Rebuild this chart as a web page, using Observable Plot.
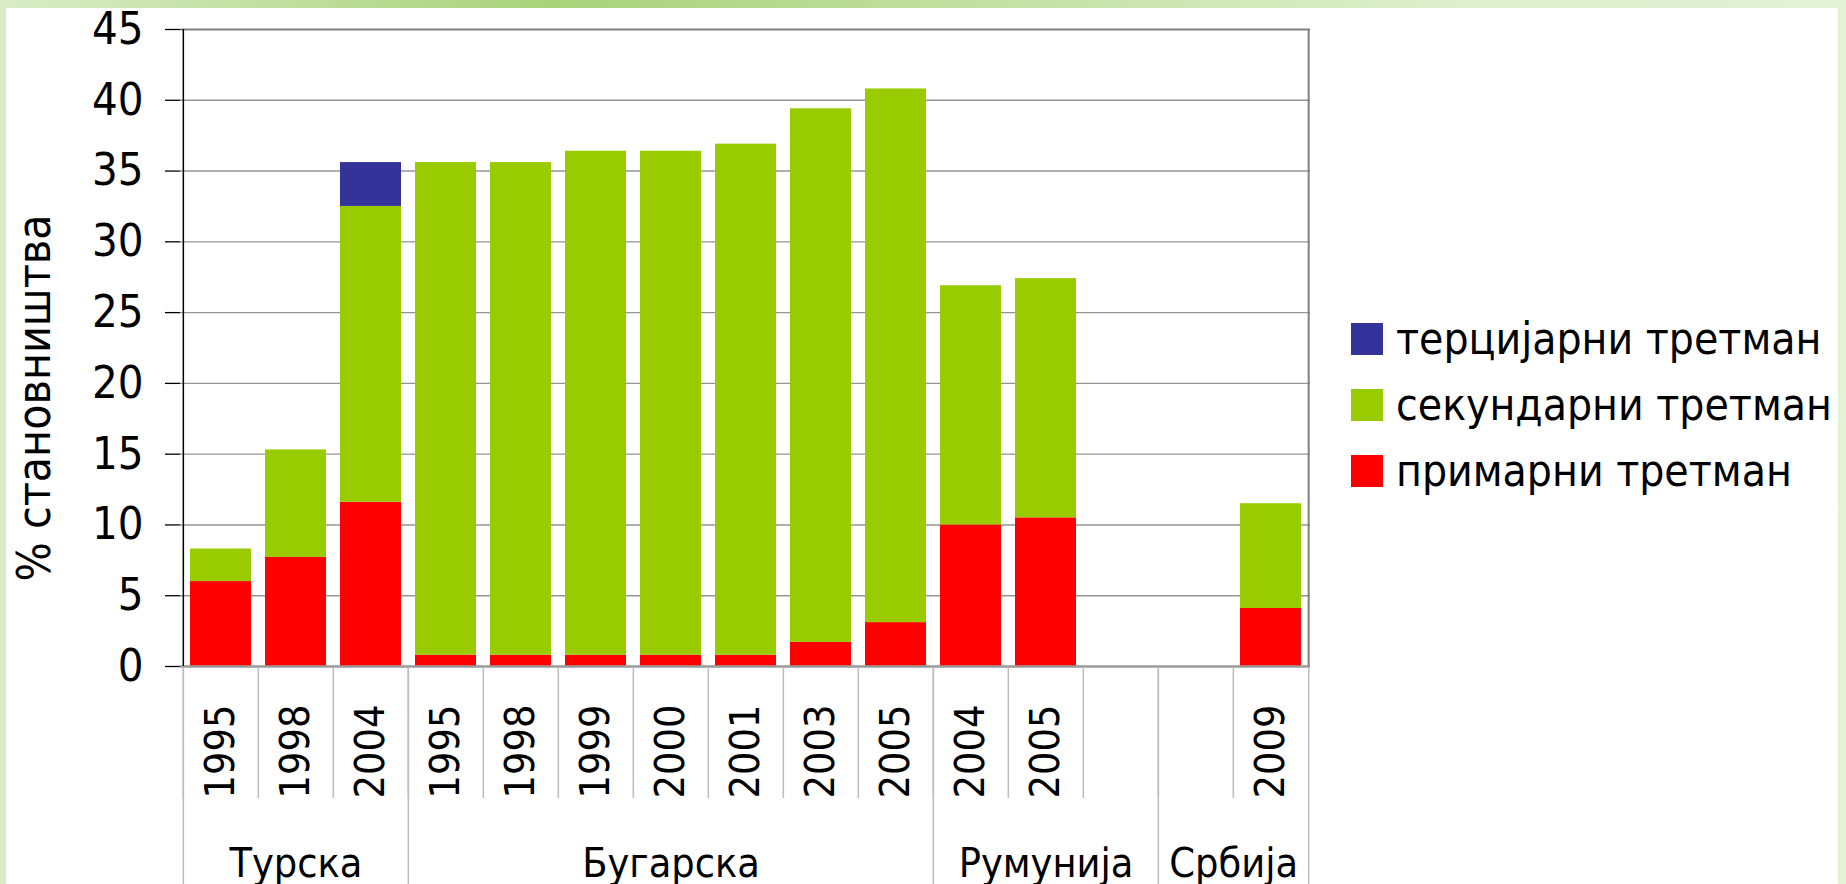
<!DOCTYPE html>
<html>
<head>
<meta charset="utf-8">
<script src="https://cdn.jsdelivr.net/npm/d3@7"></script>
<script src="https://cdn.jsdelivr.net/npm/@observablehq/plot@0.6"></script>
<style>
  html, body { margin: 0; padding: 0; }
  body {
    width: 1846px; height: 884px; overflow: hidden; position: relative;
    background: linear-gradient(90deg, #d9ecc6 0%, #c9e3ad 10%, #a9d27a 30%, #c5e1a6 55%, #dff0cf 80%, #e3f1d6 100%);
    font-family: "DejaVu Sans Condensed", "DejaVu Sans", sans-serif;
  }
  #panel { position: absolute; left: 6px; top: 8px; width: 1832px; height: 876px; background: #ffffff; }
  #chart { position: absolute; left: 0; top: 0; }
  #legend { position: absolute; left: 1351px; top: 306px; }
  .item { display: flex; align-items: center; height: 66px; }
  .sw { width: 32px; height: 32px; margin-right: 13px; }
  .lab { font-size: 44px; color: #000; white-space: nowrap; line-height: 1; }
</style>
</head>
<body>
<div id="panel"></div>
<div id="chart"></div>
<div id="legend"></div>
<script>
// ---- data ----
const countries = ["Турска","Турска","Турска","Бугарска","Бугарска","Бугарска","Бугарска","Бугарска","Бугарска","Бугарска","Румунија","Румунија","Румунија","Србија","Србија"];
const years = ["1995","1998","2004","1995","1998","1999","2000","2001","2003","2005","2004","2005","","","2009"];
const seriesNames = ["примарни третман","секундарни третман","терцијарни третман"];
const primary   = [6.0, 7.7, 11.6, 0.8, 0.8, 0.8, 0.8, 0.8, 1.7, 3.1, 10.0, 10.5, null, null, 4.1];
const secondary = [2.3, 7.6, 20.9, 34.8, 34.8, 35.6, 35.6, 36.1, 37.7, 37.7, 16.9, 16.9, null, null, 7.4];
const tertiary  = [0, 0, 3.1, 0, 0, 0, 0, 0, 0, 0, 0, 0, null, null, 0];
const seriesColors = ["#ff0000", "#99cc00", "#333399"];
const yTicks = [0, 5, 10, 15, 20, 25, 30, 35, 40, 45];
const legendOrder = ["терцијарни третман","секундарни третман","примарни третман"];
const yLabel = "% становништва";

// ---- derived ----
const keys = countries.map((c, i) => c + "|" + years[i]);
const seriesValues = [primary, secondary, tertiary];
const rows = [];
seriesNames.forEach((s, si) => keys.forEach((k, i) => {
  if (seriesValues[si][i] != null) rows.push({key: k, series: s, value: seriesValues[si][i]});
}));
const groups = [];
countries.forEach((c, i) => {
  const g = groups.find(d => d.name === c);
  if (g) g.count++; else groups.push({name: c, start: i, count: 1});
});
groups.forEach(g => { g.mid = keys[g.start + Math.floor((g.count - 1) / 2)]; g.first = keys[g.start]; });
const oddGroups = groups.filter(g => g.count % 2 === 1);
const evenGroups = groups.filter(g => g.count % 2 === 0);

const W = 1846, H = 884, mL = 180, mR = 536, mT = 29, mB = 218;
const plotW = W - mL - mR, plotH = H - mT - mB;
const step = plotW / keys.length;
const font = "DejaVu Sans Condensed";

const chart = Plot.plot({
  width: W, height: H,
  marginLeft: mL, marginRight: mR, marginTop: mT, marginBottom: mB,
  style: {fontFamily: font, background: "transparent", color: "#000", overflow: "visible"},
  x: {type: "band", domain: keys, padding: 0, axis: null},
  y: {domain: [0, 45], axis: null},
  color: {domain: seriesNames, range: seriesColors},
  marks: [
    Plot.ruleY(yTicks.filter(t => t > 0 && t < 45), {stroke: "#959595", strokeWidth: 1.4}),
    Plot.barY(rows, {x: "key", y: "value", fill: "series", order: seriesNames, insetLeft: 7, insetRight: 7}),
    Plot.ruleY([45], {stroke: "#808080", strokeWidth: 2}),
    Plot.ruleY([0], {stroke: "#9a9a9a", strokeWidth: 2.5}),
    // category separators below the axis
    Plot.ruleX(keys, {x: d => d, dx: -step / 2, insetTop: plotH + 1, insetBottom: -132, stroke: "#bdbdbd", strokeWidth: 1.5}),
    // group separators to bottom
    Plot.ruleX(groups, {x: "first", dx: -step / 2, insetTop: plotH + 1, insetBottom: -mB, stroke: "#bdbdbd", strokeWidth: 1.5}),
    Plot.ruleX([keys[keys.length - 1]], {x: d => d, dx: step / 2, insetTop: plotH + 1, insetBottom: -mB, stroke: "#bdbdbd", strokeWidth: 1.5}),
    // plot right frame
    Plot.ruleX([keys[keys.length - 1]], {x: d => d, dx: step / 2, stroke: "#808080", strokeWidth: 2}),
    // y axis line
    Plot.ruleX([keys[0]], {x: d => d, dx: -step / 2, stroke: "#000", strokeWidth: 1.5}),
    Plot.axisY({ticks: yTicks, label: null, tickSize: 15, tickPadding: 22, fontSize: 45, stroke: "#000", fill: "#000", strokeWidth: 1.3}),
    // year labels
    Plot.text(keys, {x: d => d, text: (d, i) => years[i], frameAnchor: "bottom", dy: 132, rotate: -90,
      textAnchor: "start", lineAnchor: "middle", fontSize: 41, fill: "#000"}),
    // group labels
    Plot.text(oddGroups, {x: "mid", text: "name", frameAnchor: "bottom", dy: 210,
      lineAnchor: "bottom", textAnchor: "middle", fontSize: 41, fill: "#000"}),
    Plot.text(evenGroups, {x: "mid", text: "name", dx: step / 2, frameAnchor: "bottom", dy: 210,
      lineAnchor: "bottom", textAnchor: "middle", fontSize: 41, fill: "#000"}),
    // y title
    Plot.text([yLabel], {frameAnchor: "left", dx: -145, dy: 50, rotate: -90, textAnchor: "middle",
      lineAnchor: "middle", fontSize: 46, fill: "#000"})
  ]
});
document.getElementById("chart").appendChild(chart);

const legend = d3.select("#legend");
legendOrder.forEach(name => {
  const item = legend.append("div").attr("class", "item");
  item.append("div").attr("class", "sw").style("background", seriesColors[seriesNames.indexOf(name)]);
  item.append("div").attr("class", "lab").text(name);
});
</script>
</body>
</html>
